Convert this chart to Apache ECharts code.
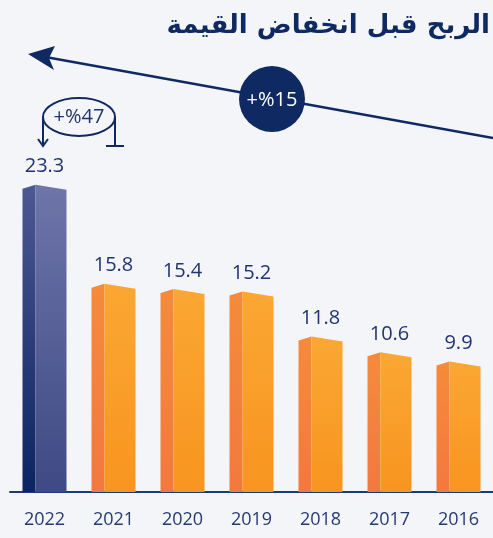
<!DOCTYPE html>
<html>
<head>
<meta charset="utf-8">
<script src="https://cdn.jsdelivr.net/npm/echarts@6/dist/echarts.min.js"></script>
<style>
  html,body{margin:0;padding:0;background:#f4f5f9}
  #chart{width:493px;height:538px}
</style>
</head>
<body>
<div id="chart"></div>
<script>
// data
var years = ['2022', '2021', '2020', '2019', '2018', '2017', '2016'];
var ebitda = [23.3, 15.8, 15.4, 15.2, 11.8, 10.6, 9.9];
var titleText = 'الربح قبل انخفاض القيمة';
var growthAll = '+%15';
var growthLast = '+%47';

var chart = echarts.init(document.getElementById('chart'));
var LG = echarts.graphic.LinearGradient;

function faces(highlight){
  if(highlight){
    return {
      side: new LG(0,0,0,1,[{offset:0,color:'#4d5892'},{offset:1,color:'#0b2462'}]),
      front: new LG(0,0,0,1,[{offset:0,color:'#6e75a9'},{offset:1,color:'#3e4a84'}])
    };
  }
  return {
    side: new LG(0,0,0,1,[{offset:0,color:'#f58b3a'},{offset:1,color:'#f3783f'}]),
    front: new LG(0,0,0,1,[{offset:0,color:'#fba733'},{offset:1,color:'#f7951f'}])
  };
}

function renderBar(params, api){
  var idx = api.value(0), val = api.value(1);
  var top = api.coord([idx, val]);
  var base = api.coord([idx, 0]);
  var cx = top[0], ty = top[1], by = base[1];
  var l = cx - 22, j = cx - 9, r = cx + 22;
  var f = faces(idx === 0);
  return {
    type: 'group',
    children: [
      { type:'polygon', shape:{ points:[[l,ty+4],[j,ty],[j,by],[l,by]] }, style:{ fill:f.side } },
      { type:'polygon', shape:{ points:[[j,ty],[r,ty+5],[r,by],[j,by]] }, style:{ fill:f.front } },
      { type:'text', x: cx, y: ty - 8, style:{
          text: api.value(1).toFixed(1), fill:'#1f3570', font:'20px "Open Sans"',
          align:'center', verticalAlign:'bottom' } }
    ]
  };
}

chart.setOption({
  backgroundColor: '#f4f5f9',
  animation: false,
  grid: { left: 10, right: 0, top: 70, bottom: 46 },
  xAxis: {
    type: 'category', data: years,
    axisLine: { show: true, lineStyle: { color: '#1d3a78', width: 2 } },
    axisTick: { show: false },
    axisLabel: { color: '#253a74', fontSize: 18, fontFamily: 'Open Sans', margin: 19 }
  },
  yAxis: { type: 'value', min: 0, max: 32, show: false, splitLine: { show: false } },
  series: [{
    type: 'custom',
    renderItem: renderBar,
    data: ebitda.map(function(v, i){ return [i, v]; })
  }],
  graphic: [
    { type:'text', right: 3, top: 13, style:{ text:titleText, fill:'#0f2a62', font:'bold 26px "DejaVu Sans"' } },
    // long arrow
    { type:'line', shape:{ x1:493, y1:138, x2:40, y2:56 }, style:{ stroke:'#0f2a62', lineWidth:2.5 } },
    { type:'polygon', shape:{ points:[[28,54],[55,46],[49,58],[54,70]] }, style:{ fill:'#0f2a62' } },
    { type:'circle', shape:{ cx:272, cy:99, r:33 }, style:{ fill:'#0f2a62' } },
    { type:'text', x:272, y:100, style:{ text:growthAll, fill:'#ffffff', font:'20px "Open Sans"', align:'center', verticalAlign:'middle' } },
    // loop annotation above 2022
    { type:'ellipse', shape:{ cx:79, cy:117, rx:36, ry:19 }, style:{ fill:'none', stroke:'#0f2a62', lineWidth:2 } },
    { type:'line', shape:{ x1:43, y1:117, x2:43, y2:144 }, style:{ stroke:'#0f2a62', lineWidth:2 } },
    { type:'polyline', shape:{ points:[[38,139],[43,146],[48,139]] }, style:{ stroke:'#0f2a62', lineWidth:2, fill:'none' } },
    { type:'line', shape:{ x1:115, y1:117, x2:115, y2:146 }, style:{ stroke:'#0f2a62', lineWidth:2 } },
    { type:'line', shape:{ x1:106, y1:146, x2:124, y2:146 }, style:{ stroke:'#0f2a62', lineWidth:2 } },
    { type:'text', x:79, y:117, style:{ text:growthLast, fill:'#1f3570', font:'20px "Open Sans"', align:'center', verticalAlign:'middle' } }
  ]
});
</script>
</body>
</html>
